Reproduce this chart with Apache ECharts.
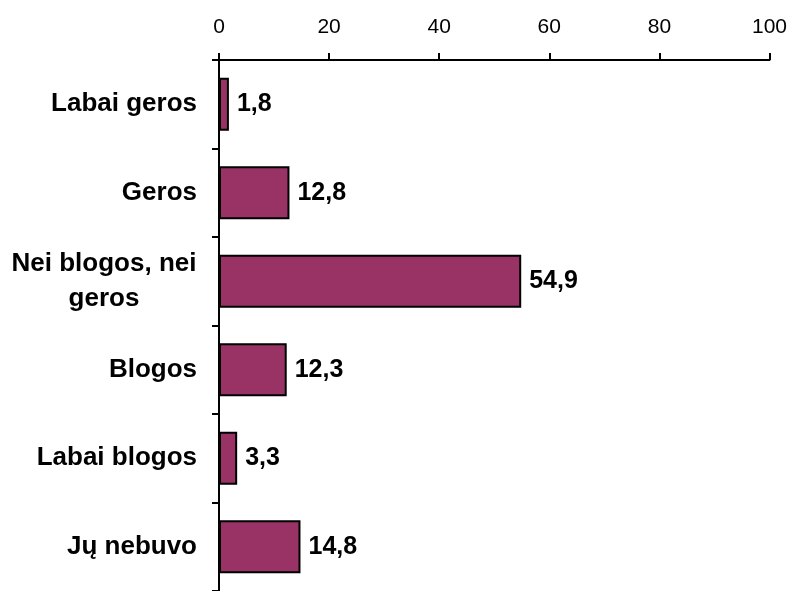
<!DOCTYPE html>
<html><head><meta charset="utf-8">
<script src="https://cdn.jsdelivr.net/npm/echarts@6/dist/echarts.min.js"></script>
<style>html,body{margin:0;padding:0;background:#fff}#c{width:790px;height:591px}</style>
</head><body><div id="c"></div>
<script>
const categories = ['Labai geros', 'Geros', 'Nei blogos, nei\ngeros', 'Blogos', 'Labai blogos', 'Jų nebuvo'];
const values = [1.8, 12.8, 54.9, 12.3, 3.3, 14.8];
const xTicks = [0, 20, 40, 60, 80, 100];

const FONT = 'Liberation Sans, Arial, sans-serif';
const chart = echarts.init(document.getElementById('c'), null, {renderer: 'canvas'});
chart.setOption({
  animation: false,
  backgroundColor: '#fff',
  grid: {left: 219, right: 20, top: 60, height: 535, containLabel: false},
  xAxis: {
    type: 'value', position: 'top', min: xTicks[0], max: xTicks[xTicks.length - 1], interval: 20,
    axisLine: {show: true, lineStyle: {color: '#000', width: 2}},
    axisTick: {show: true, length: 7, lineStyle: {color: '#000', width: 2}},
    axisLabel: {color: '#000', fontSize: 21, fontFamily: FONT, margin: 22},
    splitLine: {show: false}
  },
  yAxis: {
    type: 'category', inverse: true, data: categories,
    axisLine: {show: true, lineStyle: {color: '#000', width: 2}},
    axisTick: {show: true, length: 7, lineStyle: {color: '#000', width: 2}},
    axisLabel: {color: '#000', fontSize: 26, fontWeight: 'bold', fontFamily: FONT, margin: 22, lineHeight: 34,
      formatter: v => v.indexOf('\n') >= 0 ? v.split('\n').map(s => '{c|' + s + '}').join('\n') : v,
      rich: {c: {width: 186, align: 'center', fontSize: 26, fontWeight: 'bold', fontFamily: FONT, color: '#000', lineHeight: 35}}},
    splitLine: {show: false}
  },
  series: [{
    type: 'bar', data: values, barCategoryGap: '40%',
    itemStyle: {color: '#993366', borderColor: '#000', borderWidth: 2},
    label: {show: true, position: 'right', distance: 8, color: '#000', fontSize: 25, fontWeight: 'bold', fontFamily: FONT,
      formatter: p => String(p.value).replace('.', ',')}
  }]
});
</script></body></html>
